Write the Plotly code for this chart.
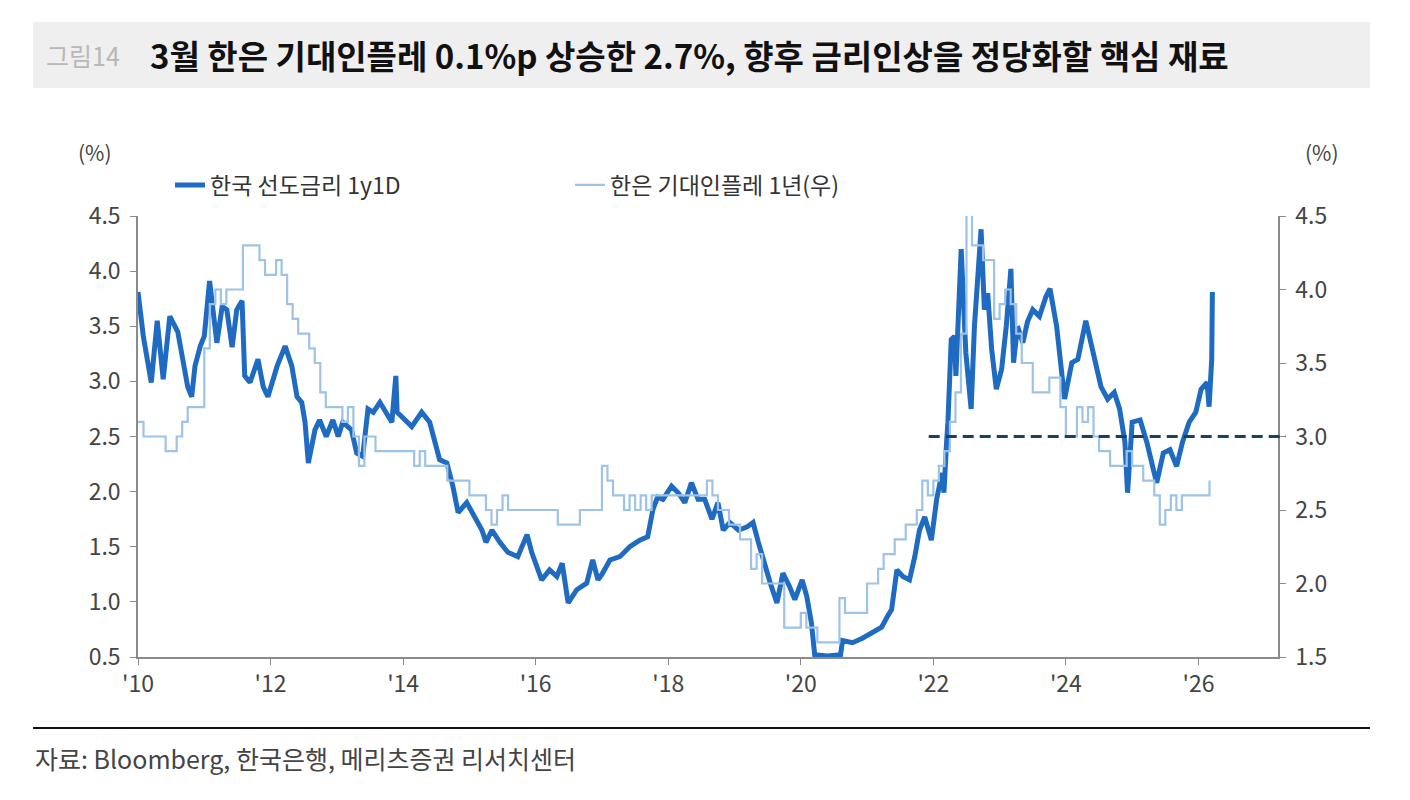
import plotly.graph_objects as go

# ---------------- data ----------------
# 한국 선도금리 1y1D (left axis), decimal-year time stamps
rate_t = [2010.0, 2010.08, 2010.2, 2010.29, 2010.38, 2010.48, 2010.6, 2010.68, 2010.75, 2010.81,
          2010.86, 2010.94, 2011.0, 2011.08, 2011.13, 2011.19, 2011.27, 2011.34, 2011.42, 2011.49,
          2011.57, 2011.61, 2011.69, 2011.75, 2011.81, 2011.89, 2011.96, 2012.1, 2012.22, 2012.32,
          2012.4, 2012.47, 2012.52, 2012.57, 2012.67, 2012.74, 2012.84, 2012.94, 2013.02, 2013.09,
          2013.22, 2013.3, 2013.39, 2013.47, 2013.55, 2013.65, 2013.75, 2013.83, 2013.89, 2013.91,
          2014.03, 2014.13, 2014.28, 2014.4, 2014.48, 2014.55, 2014.66, 2014.75, 2014.83, 2014.96,
          2015.08, 2015.19, 2015.25, 2015.34, 2015.46, 2015.58, 2015.73, 2015.87, 2015.94, 2016.09,
          2016.21, 2016.32, 2016.4, 2016.49, 2016.62, 2016.77, 2016.86, 2016.94, 2017.0, 2017.12,
          2017.27, 2017.42, 2017.57, 2017.69, 2017.77, 2017.84, 2017.92, 2018.05, 2018.15, 2018.25,
          2018.35, 2018.45, 2018.55, 2018.66, 2018.75, 2018.83, 2018.93, 2019.06, 2019.19, 2019.28,
          2019.36, 2019.43, 2019.54, 2019.64, 2019.73, 2019.83, 2019.91, 2020.02, 2020.09, 2020.16,
          2020.21, 2020.4, 2020.6, 2020.63, 2020.78, 2020.93, 2021.08, 2021.22, 2021.3, 2021.37,
          2021.45, 2021.54, 2021.64, 2021.72, 2021.79, 2021.87, 2021.97, 2022.05, 2022.13, 2022.16,
          2022.2, 2022.22, 2022.27, 2022.32, 2022.34, 2022.42, 2022.49, 2022.57, 2022.62, 2022.67,
          2022.72, 2022.77, 2022.82, 2022.88, 2022.95, 2023.03, 2023.1, 2023.17, 2023.21, 2023.27,
          2023.35, 2023.42, 2023.5, 2023.6, 2023.7, 2023.76, 2023.86, 2023.98, 2024.09, 2024.18,
          2024.3, 2024.4, 2024.53, 2024.63, 2024.73, 2024.81, 2024.89, 2024.93, 2025.0, 2025.12,
          2025.22, 2025.32, 2025.37, 2025.47, 2025.57, 2025.67, 2025.76, 2025.86, 2025.96, 2026.04,
          2026.13, 2026.16, 2026.2, 2026.21]
rate_v = [3.81, 3.41, 2.99, 3.55, 3.02, 3.59, 3.45, 3.17, 2.95, 2.86,
          3.14, 3.32, 3.41, 3.91, 3.65, 3.35, 3.68, 3.65, 3.31, 3.65,
          3.73, 3.05, 2.99, 3.11, 3.20, 2.95, 2.86, 3.14, 3.32, 3.14,
          2.86, 2.81, 2.63, 2.26, 2.56, 2.65, 2.50, 2.65, 2.50, 2.63,
          2.56, 2.35, 2.32, 2.75, 2.72, 2.81, 2.72, 2.63, 3.05, 2.72,
          2.65, 2.59, 2.72, 2.63, 2.45, 2.29, 2.26, 2.05, 1.81, 1.90,
          1.77, 1.65, 1.54, 1.65, 1.54, 1.45, 1.41, 1.61, 1.45, 1.20,
          1.29, 1.23, 1.35, 0.99, 1.11, 1.17, 1.38, 1.20, 1.25, 1.38,
          1.41, 1.50, 1.56, 1.59, 1.84, 1.95, 1.93, 2.05, 1.99, 1.90,
          2.08, 1.93, 1.93, 1.75, 1.90, 1.65, 1.72, 1.65, 1.68, 1.72,
          1.54, 1.38, 1.17, 0.99, 1.26, 1.14, 1.02, 1.20, 1.05, 0.81,
          0.52, 0.51, 0.52, 0.65, 0.63, 0.67, 0.72, 0.77, 0.86, 0.93,
          1.29, 1.23, 1.20, 1.41, 1.65, 1.77, 1.56, 1.93, 2.17, 1.99,
          2.45, 2.63, 3.38, 3.41, 3.05, 4.20, 3.26, 2.75, 3.50, 4.02,
          4.38, 3.65, 3.80, 3.29, 2.93, 3.11, 3.50, 4.02, 3.17, 3.50,
          3.35, 3.54, 3.65, 3.59, 3.77, 3.84, 3.50, 2.84, 3.17, 3.20,
          3.55, 3.29, 2.95, 2.84, 2.90, 2.75, 2.45, 1.99, 2.63, 2.65,
          2.45, 2.20, 2.08, 2.35, 2.38, 2.23, 2.45, 2.63, 2.72, 2.93,
          2.99, 2.77, 3.20, 3.81]

# 한은 기대인플레 1년 (right axis), monthly from Jan 2010 to Mar 2026
infl_start_year = 2010
infl_monthly = [
    3.1, 3.0, 3.0, 3.0, 3.0, 2.9, 2.9, 3.0, 3.1, 3.2, 3.2, 3.2,   # 2010
    3.6, 3.9, 4.0, 3.9, 4.0, 4.0, 4.0, 4.3, 4.3, 4.3, 4.2, 4.1,   # 2011
    4.1, 4.2, 4.1, 3.9, 3.8, 3.7, 3.7, 3.6, 3.5, 3.3, 3.2, 3.2,   # 2012
    3.2, 3.1, 3.2, 3.0, 2.8, 3.0, 3.0, 2.9, 2.9, 2.9, 2.9, 2.9,   # 2013
    2.9, 2.9, 2.8, 2.9, 2.8, 2.8, 2.8, 2.8, 2.7, 2.7, 2.7, 2.7,   # 2014
    2.6, 2.6, 2.6, 2.5, 2.4, 2.5, 2.6, 2.5, 2.5, 2.5, 2.5, 2.5,   # 2015
    2.5, 2.5, 2.5, 2.5, 2.4, 2.4, 2.4, 2.4, 2.5, 2.5, 2.5, 2.5,   # 2016
    2.8, 2.7, 2.6, 2.6, 2.5, 2.6, 2.5, 2.6, 2.5, 2.6, 2.6, 2.6,   # 2017
    2.6, 2.6, 2.6, 2.6, 2.6, 2.6, 2.6, 2.7, 2.6, 2.5, 2.5, 2.4,   # 2018
    2.4, 2.3, 2.3, 2.1, 2.2, 2.0, 2.0, 2.0, 2.0, 1.7, 1.7, 1.7,   # 2019
    1.8, 1.7, 1.7, 1.6, 1.6, 1.6, 1.6, 1.9, 1.8, 1.8, 1.8, 1.8,   # 2020
    2.0, 2.0, 2.1, 2.2, 2.2, 2.3, 2.3, 2.4, 2.4, 2.5, 2.7, 2.6,   # 2021
    2.7, 2.8, 2.9, 3.1, 3.3, 3.7, 4.7, 4.3, 4.3, 4.2, 4.2, 3.8,   # 2022
    3.9, 4.0, 3.9, 3.7, 3.5, 3.5, 3.3, 3.3, 3.3, 3.4, 3.4, 3.2,   # 2023
    3.0, 3.0, 3.2, 3.1, 3.2, 3.0, 2.9, 2.9, 2.8, 2.8, 2.8, 2.9,   # 2024
    2.8, 2.8, 2.7, 2.7, 2.6, 2.4, 2.5, 2.6, 2.5, 2.6, 2.6, 2.6,   # 2025
    2.6, 2.6, 2.7,                                               # 2026
]

ref_level = 3.0        # dashed reference level on right axis
ref_start = 2021.93    # where the dashed line starts

x_ticks = [2010, 2012, 2014, 2016, 2018, 2020, 2022, 2024, 2026]
x_ticktext = ["'10", "'12", "'14", "'16", "'18", "'20", "'22", "'24", "'26"]
x_range = [2010, 2027.2]
y_left_range = [0.5, 4.5]
y_right_range = [1.5, 4.5]

name_rate = "한국 선도금리 1y1D"
name_infl = "한은 기대인플레 1년(우)"
title_tag = "그림14"
title_text = "3월 한은 기대인플레 0.1%p 상승한 2.7%, 향후 금리인상을 정당화할 핵심 재료"
source_text = "자료: Bloomberg, 한국은행, 메리츠증권 리서치센터"

# ---------------- figure ----------------
FONT = "Noto Sans CJK KR"
TICKFONT = "Noto Sans CJK KR"
infl_t = [infl_start_year + i / 12 for i in range(len(infl_monthly))]

fig = go.Figure()
fig.add_trace(go.Scatter(x=rate_t, y=rate_v, name=name_rate, mode="lines",
                         line=dict(color="#1F6BC1", width=5), yaxis="y"))
fig.add_trace(go.Scatter(x=infl_t, y=infl_monthly, name=name_infl, mode="lines",
                         line=dict(color="#9DC3E6", width=2.2, shape="hv"), yaxis="y2"))

L, R, T, B = 138, 132, 216, 143
W, H = 1410, 800
pw, ph = W - L - R, H - T - B

def px(x):
    return (x - L) / pw

def py(y):
    return (H - B - y) / ph

ref_x0 = (ref_start - x_range[0]) / (x_range[1] - x_range[0])

axis_common = dict(showline=True, linecolor="#8a8a8a", linewidth=1.5, ticks="outside",
                   ticklen=6, tickcolor="#8a8a8a", showgrid=False, zeroline=False,
                   tickfont=dict(family=TICKFONT, size=23, color="#444444"))

fig.update_layout(
    width=W, height=H,
    margin=dict(l=L, r=R, t=T, b=B),
    paper_bgcolor="white", plot_bgcolor="white",
    font=dict(family=FONT, color="#333333"),
    xaxis=dict(range=x_range, tickvals=x_ticks, ticktext=x_ticktext, **axis_common),
    yaxis=dict(range=y_left_range, dtick=0.5, tickformat=".1f", ticklabelstandoff=5, **axis_common),
    yaxis2=dict(range=y_right_range, dtick=0.5, tickformat=".1f", overlaying="y", side="right",
                ticklabelstandoff=5, **axis_common),
    showlegend=True,
    legend=dict(orientation="h", x=px(170), y=py(185), xanchor="left", yanchor="middle",
                font=dict(family=FONT, size=23, color="#333333"), entrywidth=355,
                bgcolor="rgba(0,0,0,0)"),
    shapes=[
        dict(type="rect", xref="paper", yref="paper", x0=px(33), x1=px(1370), y0=py(88), y1=py(22),
             fillcolor="#EFEFEF", line=dict(width=0), layer="below"),
        dict(type="line", xref="paper", yref="paper", x0=px(33), x1=px(1370), y0=py(728), y1=py(728),
             line=dict(color="#111111", width=2)),
        dict(type="line", xref="paper", yref="y2", x0=ref_x0, x1=px(1286), y0=ref_level, y1=ref_level,
             line=dict(color="#1F3F5F", width=3, dash="11px,6px")),
    ],
    annotations=[
        dict(text=title_tag, xref="paper", yref="paper", x=px(44), y=py(55), xanchor="left",
             yanchor="middle", showarrow=False, font=dict(family=FONT, size=25, color="#B8B8B8")),
        dict(text="<b>" + title_text + "</b>", xref="paper", yref="paper", x=px(148), y=py(55),
             xanchor="left", yanchor="middle", showarrow=False,
             font=dict(family=FONT, size=33, color="#111111")),
        dict(text="(%)", xref="paper", yref="paper", x=px(76), y=py(152), xanchor="left",
             yanchor="middle", showarrow=False, font=dict(family=FONT, size=21, color="#444444")),
        dict(text="(%)", xref="paper", yref="paper", x=px(1303), y=py(152), xanchor="left",
             yanchor="middle", showarrow=False, font=dict(family=FONT, size=21, color="#444444")),
        dict(text=source_text, xref="paper", yref="paper", x=px(33), y=py(758), xanchor="left",
             yanchor="middle", showarrow=False, font=dict(family=FONT, size=25, color="#444444")),
    ],
)

fig.write_html("out.html")
